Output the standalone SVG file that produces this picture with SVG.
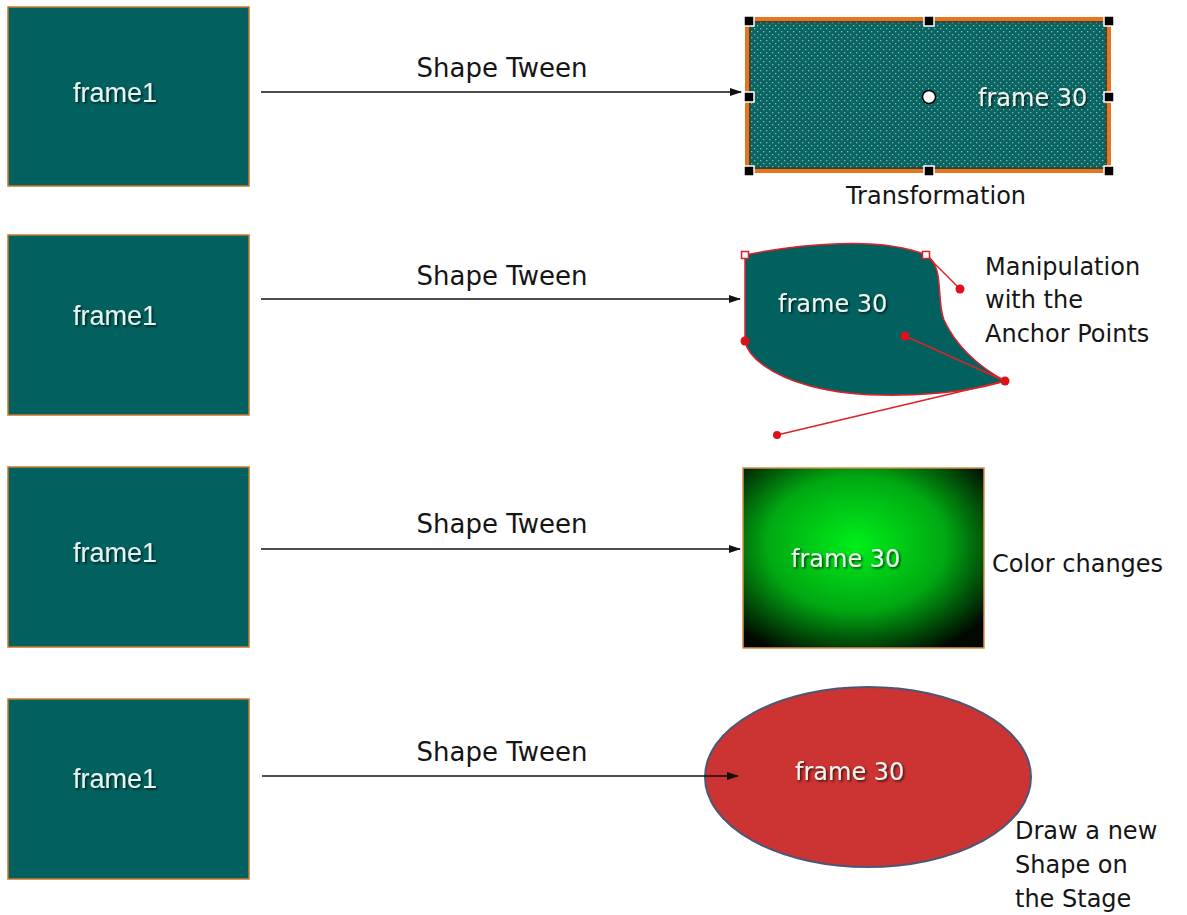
<svg xmlns="http://www.w3.org/2000/svg" width="1187" height="915" viewBox="0 0 1187 915">
<style>
.frame{fill:#02615f;stroke:#c8782a;stroke-width:1.5}
.ftext{font-family:"Liberation Sans",Arial,sans-serif;font-size:27px;fill:#e4f4f0;filter:url(#sh)}
.ttext{font-family:"DejaVu Sans",Verdana,sans-serif;font-size:24px;fill:#eef4ee;filter:url(#sh)}
.lbl{font-family:"DejaVu Sans",Verdana,sans-serif;font-size:24px;fill:#151515}
.tween{font-family:"DejaVu Sans",Verdana,sans-serif;font-size:26px;fill:#151515}
.conn{stroke:#111;stroke-width:1.5;fill:none;marker-end:url(#ah)}
.hdl{fill:#000;stroke:#fff;stroke-width:1.5}
.rdot{fill:#e0101a}
.rline{stroke:#e02028;stroke-width:1.5;fill:none}
</style>
<defs>
<marker id="ah" markerWidth="12" markerHeight="8" refX="11" refY="4" orient="auto" markerUnits="userSpaceOnUse">
<path d="M0,0 L12,4 L0,8 Z" fill="#111"/>
</marker>
<filter id="sh" x="-10%" y="-20%" width="130%" height="150%">
<feDropShadow dx="1.5" dy="1.5" stdDeviation="1" flood-color="#000" flood-opacity="0.7"/>
</filter>
<pattern id="dots" width="6" height="6" patternUnits="userSpaceOnUse">
<rect width="6" height="6" fill="#0a6462"/>
<rect x="1" y="1" width="1.3" height="1.3" fill="#7fb8b0"/>
<rect x="4" y="4" width="1.3" height="1.3" fill="#7fb8b0"/>
</pattern>
<radialGradient id="grn" cx="0.47" cy="0.42" r="0.68">
<stop offset="0" stop-color="#00ee1a"/>
<stop offset="0.55" stop-color="#00a812"/>
<stop offset="1" stop-color="#000800"/>
</radialGradient>
</defs>
<rect width="1187" height="915" fill="#fff"/>

<g id="frame1-a">
<rect class="frame" x="8" y="7" width="241" height="179"/>
<text class="ftext" x="73" y="102">frame1</text>
</g>
<g id="frame1-b">
<rect class="frame" x="8" y="235" width="241" height="180"/>
<text class="ftext" x="73" y="325">frame1</text>
</g>
<g id="frame1-c">
<rect class="frame" x="8" y="467" width="241" height="180"/>
<text class="ftext" x="73" y="562">frame1</text>
</g>
<g id="frame1-d">
<rect class="frame" x="8" y="699" width="241" height="180"/>
<text class="ftext" x="73" y="788">frame1</text>
</g>

<g id="transform">
<rect x="747" y="19" width="362" height="152" fill="url(#dots)" stroke="#e8741e" stroke-width="4"/>
<rect x="750" y="22" width="356" height="146" fill="none" stroke="#5a2a10" stroke-width="1"/>
<rect class="hdl" x="744" y="16" width="10" height="10"/>
<rect class="hdl" x="924" y="16" width="10" height="10"/>
<rect class="hdl" x="1104" y="16" width="10" height="10"/>
<rect class="hdl" x="744" y="92" width="10" height="10"/>
<rect class="hdl" x="1104" y="92" width="10" height="10"/>
<rect class="hdl" x="744" y="166" width="10" height="10"/>
<rect class="hdl" x="924" y="166" width="10" height="10"/>
<rect class="hdl" x="1104" y="166" width="10" height="10"/>
<circle cx="929" cy="97" r="6.5" fill="#fff" stroke="#000" stroke-width="1.5"/>
<text class="ttext" x="978" y="106">frame 30</text>
<text class="lbl" x="936" y="204" text-anchor="middle">Transformation</text>
</g>

<g id="anchor">
<path d="M745,255 C800,244 880,236 926,255 C945,266 936,300 944,320 C958,350 985,370 1005,381 C960,395 870,402 810,386 C770,375 748,357 745,341 Z" fill="#02615f" stroke="#e02028" stroke-width="1.5"/>
<line class="rline" x1="926" y1="255" x2="960" y2="289"/>
<line class="rline" x1="1005" y1="381" x2="905" y2="336"/>
<line class="rline" x1="1005" y1="381" x2="777" y2="435"/>
<circle class="rdot" cx="960" cy="289" r="4.5"/>
<circle class="rdot" cx="905" cy="336" r="4.5"/>
<circle class="rdot" cx="1005" cy="381" r="4.5"/>
<circle class="rdot" cx="777" cy="435" r="4"/>
<circle class="rdot" cx="745" cy="341" r="4.5"/>
<rect x="741.5" y="251.5" width="7" height="7" fill="#fff" stroke="#e02028" stroke-width="1.5"/>
<rect x="922.5" y="251.5" width="7" height="7" fill="#fff" stroke="#e02028" stroke-width="1.5"/>
<text class="ttext" x="778" y="312">frame 30</text>
<text class="lbl" x="985" y="275">Manipulation</text>
<text class="lbl" x="985" y="308">with the</text>
<text class="lbl" x="985" y="342">Anchor Points</text>
</g>

<g id="color">
<rect x="743" y="468" width="241" height="180" fill="url(#grn)" stroke="#d8904a" stroke-width="1.5"/>
<text class="ttext" x="791" y="567">frame 30</text>
<text class="lbl" x="992" y="572">Color changes</text>
</g>

<g id="newshape">
<ellipse cx="868" cy="777" rx="163" ry="90" fill="#cc3333" stroke="#4a5878" stroke-width="2"/>
<text class="ttext" x="795" y="780">frame 30</text>
<text class="lbl" x="1015" y="839">Draw a new</text>
<text class="lbl" x="1015" y="873">Shape on</text>
<text class="lbl" x="1015" y="907">the Stage</text>
</g>

<g id="connectors">
<line class="conn" x1="261" y1="92" x2="741" y2="92"/>
<line class="conn" x1="261" y1="299" x2="740" y2="299"/>
<line class="conn" x1="261" y1="549" x2="740" y2="549"/>
<line class="conn" x1="262" y1="776" x2="738" y2="776"/>
<text class="tween" x="502" y="77" text-anchor="middle">Shape Tween</text>
<text class="tween" x="502" y="285" text-anchor="middle">Shape Tween</text>
<text class="tween" x="502" y="533" text-anchor="middle">Shape Tween</text>
<text class="tween" x="502" y="761" text-anchor="middle">Shape Tween</text>
</g>
</svg>
